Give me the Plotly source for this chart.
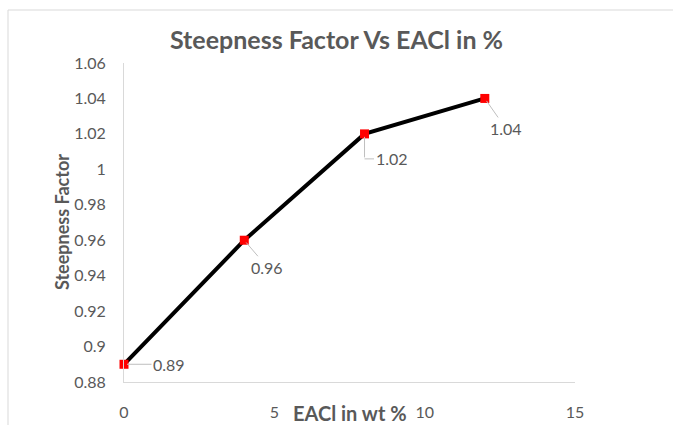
import plotly.graph_objects as go

x_vals = [0, 4, 8, 12]
y_vals = [0.89, 0.96, 1.02, 1.04]
labels = ["0.89", "0.96", "1.02", "1.04"]
# label offsets in pixels (ax, ay) relative to point
offsets = [(45, 0), (23, 27), None, (21, 30)]

W, H = 673, 425
L, R, T, B = 124, 98, 63, 43
GRAY = "#595959"
LEADER = "#bfbfbf"
FONT = "Lato"

fig = go.Figure()
fig.add_trace(go.Scatter(
    x=x_vals, y=y_vals, mode="lines+markers",
    line=dict(color="black", width=4),
    marker=dict(symbol="square", size=9, color="#ff0000"),
    cliponaxis=False,
    hoverinfo="x+y", showlegend=False,
))

annotations = []
for xv, yv, lab, off in zip(x_vals, y_vals, labels, offsets):
    if off is None:
        # elbow leader: vertical drop, then horizontal to label
        annotations.append(dict(
            x=xv, y=yv, xref="x", yref="y", text="",
            showarrow=True, arrowhead=0, arrowwidth=1, arrowcolor=LEADER,
            ax=0, ay=25, standoff=3,
        ))
        annotations.append(dict(
            x=xv, y=yv, xref="x", yref="y", text=lab, yshift=-25,
            showarrow=True, arrowhead=0, arrowwidth=1, arrowcolor=LEADER,
            ax=27, ay=0, standoff=0,
            font=dict(family=FONT, size=16, color=GRAY),
            xanchor="center", yanchor="middle",
        ))
        continue
    ax, ay = off
    annotations.append(dict(
        x=xv, y=yv, xref="x", yref="y", text=lab,
        showarrow=True, arrowhead=0, arrowwidth=1, arrowcolor=LEADER,
        ax=ax, ay=ay, standoff=3, startstandoff=0,
        font=dict(family=FONT, size=16, color=GRAY),
        xanchor="center", yanchor="middle",
    ))

pw = W - L - R
ph = H - T - B
annotations.append(dict(
    text="<b>EACl in wt %</b>", xref="paper", yref="paper",
    x=(350 - L) / pw, y=(H - B - 413) / ph, showarrow=False,
    font=dict(family=FONT, size=20, color=GRAY),
    xanchor="center", yanchor="middle",
))
annotations.append(dict(
    text="<b>Steepness Factor</b>", xref="paper", yref="paper",
    x=(62 - L) / pw, y=(H - B - 222) / ph, showarrow=False, textangle=-90,
    font=dict(family=FONT, size=18, color=GRAY),
    xanchor="center", yanchor="middle",
))

fig.update_layout(
    width=W, height=H,
    margin=dict(l=L, r=R, t=T, b=B, autoexpand=False),
    paper_bgcolor="white", plot_bgcolor="white",
    title=dict(text="<b>Steepness Factor Vs EACl in %</b>",
               x=0.5, xanchor="center", y=1 - 40 / H, yanchor="middle",
               font=dict(family=FONT, size=25, color=GRAY)),
    xaxis=dict(range=[0, 15], tickvals=[0, 5, 10, 15], showgrid=False,
               zeroline=False, showline=True, linecolor="#d9d9d9", linewidth=1,
               ticks="", ticklabelstandoff=16, automargin=False,
               tickfont=dict(family=FONT, size=16, color=GRAY)),
    yaxis=dict(range=[0.88, 1.06], dtick=0.02, showgrid=False,
               zeroline=False, showline=True, linecolor="#d9d9d9", linewidth=1,
               ticks="", ticklabelstandoff=14, tickformat="~g", automargin=False,
               tickfont=dict(family=FONT, size=16, color=GRAY)),
    annotations=annotations,
    shapes=[dict(type="rect", xref="paper", yref="paper",
                 x0=(8 - L) / pw, x1=(690 - L) / pw,
                 y0=(H - B - 440) / ph, y1=(H - B - 10) / ph,
                 line=dict(color="#d9d9d9", width=1), layer="below")],
)

fig.write_html("out.html")
